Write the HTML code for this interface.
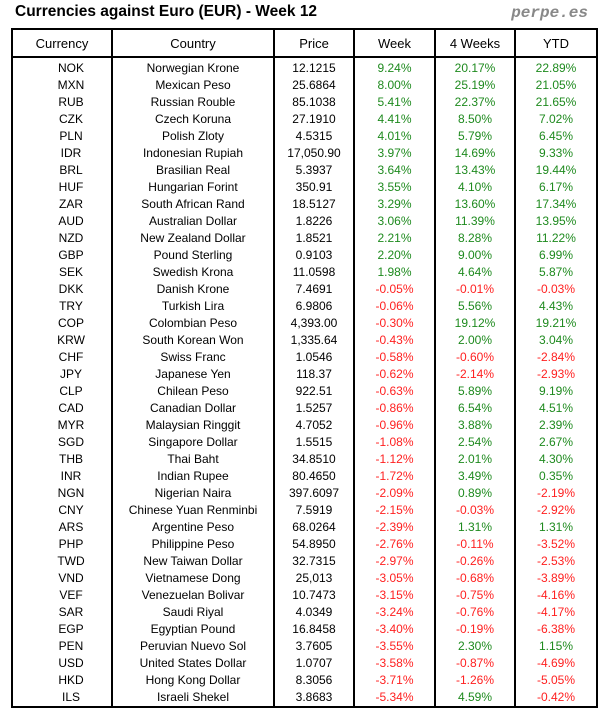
<!DOCTYPE html>
<html><head><meta charset="utf-8"><style>
html,body{margin:0;padding:0;background:#fff;width:604px;height:716px;overflow:hidden}
body{font-family:"Liberation Sans",sans-serif;position:relative}
.title{position:absolute;left:15px;top:3px;font-size:15.5px;font-weight:bold;color:#000}
.brand{position:absolute;right:16px;top:4px;font-size:16px;font-weight:bold;font-style:italic;color:#888;font-family:"Liberation Mono",monospace}
table{position:absolute;left:11px;top:28px;border-collapse:collapse;border:2px solid #000;font-size:12px;color:#000;table-layout:fixed;width:585px}
td,th{border-left:2px solid #000;border-right:2px solid #000;padding:0;text-align:center;height:17px;line-height:17px;white-space:nowrap}
th{font-weight:normal;font-size:13px;height:26px;border-bottom:2px solid #000}
tr.first td{padding-top:2px}
.g{color:#1e8a1e}.r{color:#ff2020}
</style></head><body>
<div class="title">Currencies against Euro (EUR) - Week 12</div>
<div class="brand">perpe.es</div>
<table>
<colgroup><col style="width:100px"><col style="width:162px"><col style="width:80px"><col style="width:81px"><col style="width:80px"><col style="width:82px"></colgroup>
<tr><th>Currency</th><th>Country</th><th>Price</th><th>Week</th><th>4 Weeks</th><th>YTD</th></tr>
<tbody id="b"></tbody>
</table>
<script>
const d=[
["NOK","Norwegian Krone","12.1215","9.24%","20.17%","22.89%"],
["MXN","Mexican Peso","25.6864","8.00%","25.19%","21.05%"],
["RUB","Russian Rouble","85.1038","5.41%","22.37%","21.65%"],
["CZK","Czech Koruna","27.1910","4.41%","8.50%","7.02%"],
["PLN","Polish Zloty","4.5315","4.01%","5.79%","6.45%"],
["IDR","Indonesian Rupiah","17,050.90","3.97%","14.69%","9.33%"],
["BRL","Brasilian Real","5.3937","3.64%","13.43%","19.44%"],
["HUF","Hungarian Forint","350.91","3.55%","4.10%","6.17%"],
["ZAR","South African Rand","18.5127","3.29%","13.60%","17.34%"],
["AUD","Australian Dollar","1.8226","3.06%","11.39%","13.95%"],
["NZD","New Zealand Dollar","1.8521","2.21%","8.28%","11.22%"],
["GBP","Pound Sterling","0.9103","2.20%","9.00%","6.99%"],
["SEK","Swedish Krona","11.0598","1.98%","4.64%","5.87%"],
["DKK","Danish Krone","7.4691","-0.05%","-0.01%","-0.03%"],
["TRY","Turkish Lira","6.9806","-0.06%","5.56%","4.43%"],
["COP","Colombian Peso","4,393.00","-0.30%","19.12%","19.21%"],
["KRW","South Korean Won","1,335.64","-0.43%","2.00%","3.04%"],
["CHF","Swiss Franc","1.0546","-0.58%","-0.60%","-2.84%"],
["JPY","Japanese Yen","118.37","-0.62%","-2.14%","-2.93%"],
["CLP","Chilean Peso","922.51","-0.63%","5.89%","9.19%"],
["CAD","Canadian Dollar","1.5257","-0.86%","6.54%","4.51%"],
["MYR","Malaysian Ringgit","4.7052","-0.96%","3.88%","2.39%"],
["SGD","Singapore Dollar","1.5515","-1.08%","2.54%","2.67%"],
["THB","Thai Baht","34.8510","-1.12%","2.01%","4.30%"],
["INR","Indian Rupee","80.4650","-1.72%","3.49%","0.35%"],
["NGN","Nigerian Naira","397.6097","-2.09%","0.89%","-2.19%"],
["CNY","Chinese Yuan Renminbi","7.5919","-2.15%","-0.03%","-2.92%"],
["ARS","Argentine Peso","68.0264","-2.39%","1.31%","1.31%"],
["PHP","Philippine Peso","54.8950","-2.76%","-0.11%","-3.52%"],
["TWD","New Taiwan Dollar","32.7315","-2.97%","-0.26%","-2.53%"],
["VND","Vietnamese Dong","25,013","-3.05%","-0.68%","-3.89%"],
["VEF","Venezuelan Bolivar","10.7473","-3.15%","-0.75%","-4.16%"],
["SAR","Saudi Riyal","4.0349","-3.24%","-0.76%","-4.17%"],
["EGP","Egyptian Pound","16.8458","-3.40%","-0.19%","-6.38%"],
["PEN","Peruvian Nuevo Sol","3.7605","-3.55%","2.30%","1.15%"],
["USD","United States Dollar","1.0707","-3.58%","-0.87%","-4.69%"],
["HKD","Hong Kong Dollar","8.3056","-3.71%","-1.26%","-5.05%"],
["ILS","Israeli Shekel","3.8683","-5.34%","4.59%","-0.42%"]];
let h="";d.forEach((r,i)=>{h+='<tr'+(i==0?' class="first"':'')+'><td style="padding-left:18px">'+r[0]+'</td><td>'+r[1]+'</td><td>'+r[2]+'</td>';for(let k=3;k<6;k++)h+='<td class="'+(r[k][0]=='-'?'r':'g')+'">'+r[k]+'</td>';h+='</tr>';});
document.getElementById('b').innerHTML=h;
</script>
</body></html>
